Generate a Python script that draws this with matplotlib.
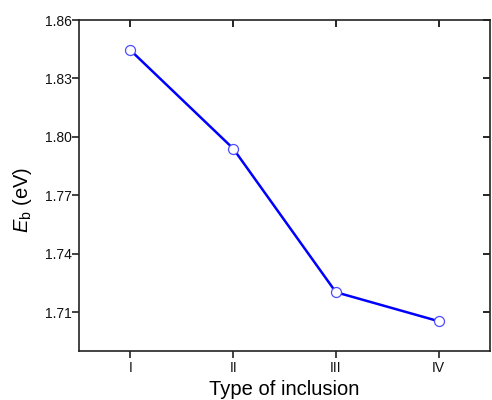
import matplotlib
matplotlib.use("Agg")
import matplotlib.pyplot as plt

plt.rcParams['font.family'] = ['Liberation Sans', 'DejaVu Sans']
plt.rcParams['mathtext.fontset'] = 'custom'
plt.rcParams['mathtext.it'] = 'Liberation Sans:italic'
plt.rcParams['mathtext.rm'] = 'Liberation Sans'

types = ['I', 'II', 'III', 'IV']
eb = [1.8445, 1.794, 1.7202, 1.7053]
yticks = [1.71, 1.74, 1.77, 1.80, 1.83, 1.86]

fig = plt.figure(figsize=(4.92, 4.0), dpi=100)
ax = fig.add_axes([0.1606, 0.1225, 0.8354, 0.8275])

x = list(range(1, len(types) + 1))
ax.plot(x, eb, color='#0000ff', linewidth=1.8, marker='o', markersize=7.2,
        markerfacecolor='white', markeredgecolor='#4d4dff', markeredgewidth=0.9)

ax.set_xlim(0.5, 4.5)
ax.set_ylim(1.69, 1.86)
ax.set_xticks(x)
ax.set_xticklabels(types)
ax.set_yticks(yticks)
ax.set_yticklabels([f"{v:.2f}" for v in yticks])

for s in ax.spines.values():
    s.set_linewidth(1.2)
    s.set_color('#222222')

ax.tick_params(axis='both', which='major', direction='out', length=5, width=1.2,
               labelsize=10, colors='#222222', pad=2)
ax.tick_params(axis='y', pad=0.5)
ax.tick_params(axis='both', labelcolor='#111111')
ax2 = ax.secondary_xaxis('top')
ax2.set_xticks(x)
ax2.tick_params(direction='in', length=5, width=1.2, labeltop=False)
ax3 = ax.secondary_yaxis('right')
ax3.set_yticks(yticks)
ax3.tick_params(direction='in', length=5, width=1.2, labelright=False)
for a in (ax2, ax3):
    for s in a.spines.values():
        s.set_visible(False)

ax.set_xlabel('Type of inclusion', fontsize=14.5, labelpad=4)
ax.set_ylabel(r'$E_{\mathrm{b}}$ (eV)', fontsize=14.5)
ax.yaxis.set_label_coords(-0.11, 0.456)

fig.savefig('out.png', dpi=100)
